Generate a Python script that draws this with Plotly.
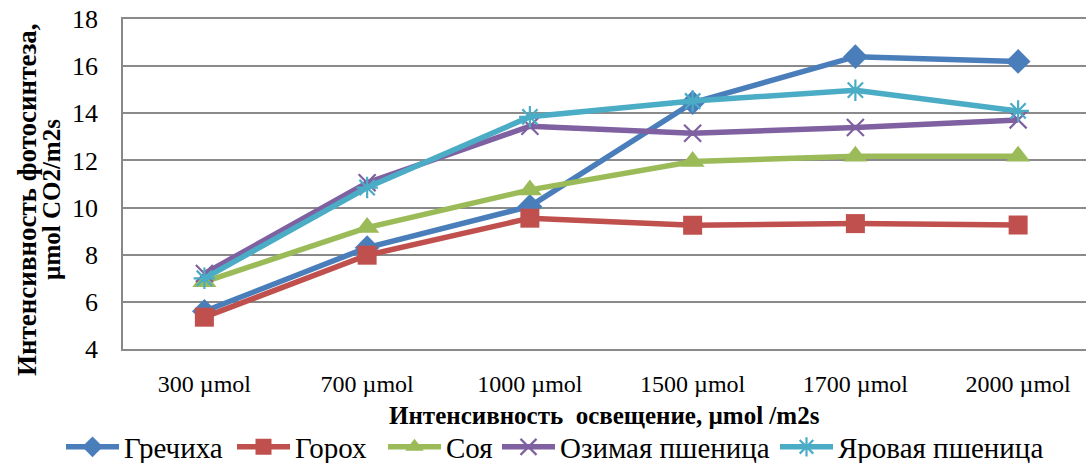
import plotly.graph_objects as go

categories = ["300 µmol", "700 µmol", "1000 µmol", "1500 µmol", "1700 µmol", "2000 µmol"]
grechikha = [5.6, 8.3, 10.05, 14.45, 16.4, 16.2]
gorokh = [5.35, 7.98, 9.55, 9.25, 9.32, 9.26]
soya = [6.85, 9.15, 10.75, 11.95, 12.18, 12.18]
ozimaya = [7.2, 11.05, 13.45, 13.15, 13.4, 13.72]
yarovaya = [7.0, 10.85, 13.85, 14.52, 14.98, 14.1]

y_ticks = [4, 6, 8, 10, 12, 14, 16, 18]

series = [
    ("Гречиха", grechikha, "#4A7EBB", dict(symbol="diamond", size=19)),
    ("Горох", gorokh, "#C0504D", dict(symbol="square", size=19)),
    ("Соя", soya, "#9BBB59", dict(symbol="triangle-up", size=21)),
    ("Озимая пшеница", ozimaya, "#7F60A0", dict(symbol="x-thin-open", size=17, line=dict(width=2.2, color="#7F60A0"))),
    ("Яровая пшеница", yarovaya, "#4BACC6", dict(symbol="asterisk-open", size=18, line=dict(width=2.2, color="#4BACC6"))),
]

font_family = "Liberation Serif, Times New Roman, serif"

W, H = 1086, 463
ML, MT, MB = 123, 19, 114
PW = W - ML
PH = H - MT - MB

def px_to_paper_x(px):
    return (px - ML) / PW

def px_to_paper_y(py):
    return (MT + PH - py) / PH

legend_ids = ["legend", "legend2", "legend3", "legend4", "legend5"]
legend_left_px = [61, 232, 383, 497, 775]

fig = go.Figure()
xi = list(range(len(categories)))
for (name, vals, color, marker), lid in zip(series, legend_ids):
    m = dict(color=color)
    m.update(marker)
    fig.add_trace(go.Scatter(
        x=xi, y=vals, name=name, mode="lines+markers",
        line=dict(color=color, width=5.5), marker=m, legend=lid,
    ))

legend_layouts = {}
for lid, lx in zip(legend_ids, legend_left_px):
    legend_layouts[lid] = dict(
        orientation="h", xref="container", yref="container",
        x=lx / W, y=1 - 447 / H, xanchor="left", yanchor="middle",
        font=dict(size=29, family=font_family), itemwidth=53,
        bgcolor="rgba(0,0,0,0)",
    )

fig.update_layout(
    width=W, height=H,
    margin=dict(l=ML, r=0, t=MT, b=MB, autoexpand=False),
    paper_bgcolor="white", plot_bgcolor="white",
    font=dict(family=font_family, size=25, color="black"),
    showlegend=True,
    xaxis=dict(
        tickmode="array", tickvals=xi, ticktext=categories,
        range=[-0.5, 5.417], showgrid=False, zeroline=False,
        showline=True, linecolor="#8a8a8a", linewidth=1.5, mirror=True,
        ticks="", tickfont=dict(size=24),
        ticklabelstandoff=12, automargin=False,
    ),
    yaxis=dict(
        range=[4, 18], tickvals=y_ticks, showgrid=True,
        gridcolor="#8a8a8a", gridwidth=1.5, zeroline=False,
        showline=True, linecolor="#888888", linewidth=1.5,
        ticks="", tickfont=dict(size=26), ticklabelstandoff=18,
        ticklabeloverflow="allow", automargin=False,
    ),
    annotations=[
        dict(text="<b>Интенсивность фотосинтеза,</b>", xref="paper", yref="paper",
             x=px_to_paper_x(27), y=px_to_paper_y(200), xanchor="center", yanchor="middle",
             textangle=-90, showarrow=False, font=dict(size=27, family=font_family)),
        dict(text="<b>µmol CO2/m2s</b>", xref="paper", yref="paper",
             x=px_to_paper_x(51), y=px_to_paper_y(200), xanchor="center", yanchor="middle",
             textangle=-90, showarrow=False, font=dict(size=25, family=font_family)),
        dict(text="<b>Интенсивность  освещение, µmol /m2s</b>", xref="paper", yref="paper",
             x=px_to_paper_x(604), y=px_to_paper_y(415), xanchor="center", yanchor="middle",
             showarrow=False, font=dict(size=25, family=font_family)),
    ],
    **legend_layouts,
)

fig.write_html("out.html", config={"displayModeBar": False},
               post_script="document.body.style.margin='0px';")
